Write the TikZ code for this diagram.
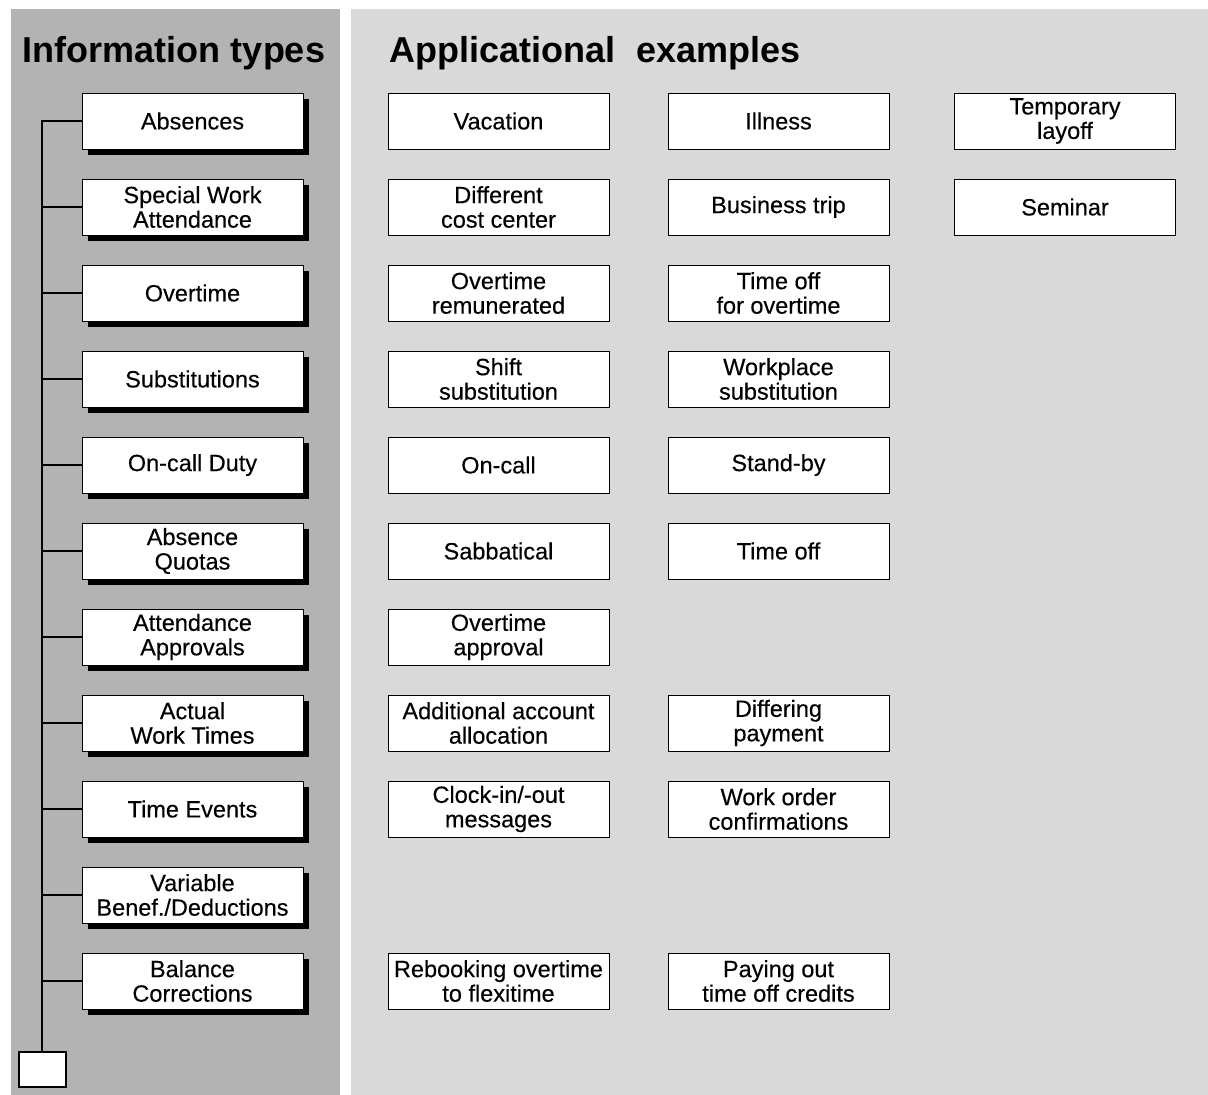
\documentclass[tikz,border=0pt]{standalone}
\usepackage{fontspec}
\setmainfont{Liberation Sans}
\newfontfamily\boxfont[FakeBold=0.3]{Liberation Sans}
\usetikzlibrary{shadows}
\definecolor{darkpanel}{HTML}{B3B3B3}
\definecolor{lightpanel}{HTML}{D9D9D9}
\begin{document}
\begin{tikzpicture}[x=1pt,y=-1pt,
  txt/.style={font=\boxfont\fontsize{23.5}{24.5}\selectfont, align=center},
  lbox/.style={txt, draw=black, line width=1pt, fill=white, minimum width=221pt, minimum height=56pt, inner sep=0pt,
     drop shadow={shadow xshift=5.5pt, shadow yshift=-5.5pt, fill=black, opacity=1}},
  rbox/.style={txt, draw=black, line width=0.9pt, fill=white, minimum width=221pt, minimum height=56pt, inner sep=0pt},
  title/.style={font=\fontsize{36}{38}\bfseries\selectfont, anchor=base west, inner sep=0pt},
  link/.style={line width=2.6pt}
]
\useasboundingbox (0,0) rectangle (1208,1095);
\fill[white] (0,0) rectangle (1208,1095);
\fill[darkpanel] (11,9) rectangle (340,1095);
\fill[lightpanel] (351,9) rectangle (1208,1095);
\node[title] (t1) at (22,62) {Information\hspace{0.3em}types};
\node[title] (t2) at (389,62) {Applicational\hspace{0.6em}examples};

% left column
\foreach \i/\t in {1/Absences, 2/{Special Work\\Attendance}, 3/Overtime, 4/Substitutions, 5/On-call Duty,
  6/{Absence\\Quotas}, 7/{Attendance\\Approvals}, 8/{Actual\\Work Times}, 9/Time Events,
  10/{Variable\\Benef./Deductions}, 11/{Balance\\Corrections}}{
  \node[lbox] (L\i) at (192.5, {121+86*(\i-1)}) {\t};
}
\node[draw=black, line width=2pt, fill=white, minimum width=47pt, minimum height=35pt, inner sep=0pt] (root) at (42,1069) {};
\draw[link] (root.north) -- (root.north |- L1.west) -- (L1.west);
\foreach \i in {2,...,11}{
  \draw[link] (root.north |- L\i.west) -- (L\i.west);
}

% right columns
\node[rbox] (a1) at (498.5,121) {Vacation};
\node[rbox] (b1) at (778.5,121) {Illness};
\node[rbox] (c1) at (1065,121) {Temporary\\layoff};
\node[rbox] (a2) at (498.5,207) {Different\\cost center};
\node[rbox] (b2) at (778.5,207) {Business trip};
\node[rbox] (c2) at (1065,207) {Seminar};
\node[rbox] (a3) at (498.5,293) {Overtime\\remunerated};
\node[rbox] (b3) at (778.5,293) {Time off\\for overtime};
\node[rbox] (a4) at (498.5,379) {Shift\\substitution};
\node[rbox] (b4) at (778.5,379) {Workplace\\substitution};
\node[rbox] (a5) at (498.5,465) {On-call};
\node[rbox] (b5) at (778.5,465) {Stand-by};
\node[rbox] (a6) at (498.5,551) {Sabbatical};
\node[rbox] (b6) at (778.5,551) {Time off};
\node[rbox] (a7) at (498.5,637) {Overtime\\approval};
\node[rbox] (a8) at (498.5,723) {Additional account\\allocation};
\node[rbox] (b8) at (778.5,723) {Differing\\payment};
\node[rbox] (a9) at (498.5,809) {Clock-in/-out\\messages};
\node[rbox] (b9) at (778.5,809) {Work order\\confirmations};
\node[rbox] (a11) at (498.5,981) {Rebooking overtime\\to flexitime};
\node[rbox] (b11) at (778.5,981) {Paying out\\time off credits};
\end{tikzpicture}
\end{document}
